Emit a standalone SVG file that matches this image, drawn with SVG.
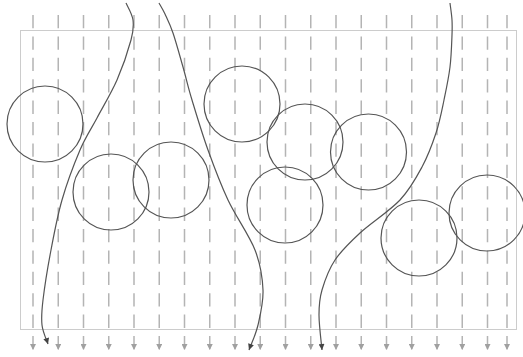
<svg xmlns="http://www.w3.org/2000/svg" width="523" height="357" viewBox="0 0 523 357">
<style>
.frame{fill:none;stroke:#cccccc;stroke-width:1}
.rain{stroke:#b4b4b4;stroke-width:1.5;stroke-dasharray:13.3 8.1;fill:none}
.node{fill:none;stroke:#555555;stroke-width:1.2}
.flow{fill:none;stroke:#555555;stroke-width:1.2}
</style>
<defs>
<marker id="ga" viewBox="0 0 10 10" refX="10" refY="5" markerWidth="6" markerHeight="6" markerUnits="userSpaceOnUse" orient="auto">
<path d="M0,0 L10,5 L0,10 z" fill="#a0a0a0"/>
</marker>
<marker id="da" viewBox="0 0 10 10" refX="10" refY="5" markerWidth="7" markerHeight="6" markerUnits="userSpaceOnUse" orient="auto">
<path d="M0,0 L10,5 L0,10 z" fill="#444444"/>
</marker>
</defs>
<rect class="frame" x="20.5" y="30.5" width="496" height="299"/>
<g id="rain">
<line class="rain" x1="33" y1="15" x2="33" y2="350" marker-end="url(#ga)"/>
<line class="rain" x1="58.25" y1="15" x2="58.25" y2="350" marker-end="url(#ga)"/>
<line class="rain" x1="83.5" y1="15" x2="83.5" y2="350" marker-end="url(#ga)"/>
<line class="rain" x1="108.75" y1="15" x2="108.75" y2="350" marker-end="url(#ga)"/>
<line class="rain" x1="134" y1="15" x2="134" y2="350" marker-end="url(#ga)"/>
<line class="rain" x1="159.25" y1="15" x2="159.25" y2="350" marker-end="url(#ga)"/>
<line class="rain" x1="184.5" y1="15" x2="184.5" y2="350" marker-end="url(#ga)"/>
<line class="rain" x1="209.75" y1="15" x2="209.75" y2="350" marker-end="url(#ga)"/>
<line class="rain" x1="235" y1="15" x2="235" y2="350" marker-end="url(#ga)"/>
<line class="rain" x1="260.25" y1="15" x2="260.25" y2="350" marker-end="url(#ga)"/>
<line class="rain" x1="285.5" y1="15" x2="285.5" y2="350" marker-end="url(#ga)"/>
<line class="rain" x1="310.75" y1="15" x2="310.75" y2="350" marker-end="url(#ga)"/>
<line class="rain" x1="336" y1="15" x2="336" y2="350" marker-end="url(#ga)"/>
<line class="rain" x1="361.25" y1="15" x2="361.25" y2="350" marker-end="url(#ga)"/>
<line class="rain" x1="386.5" y1="15" x2="386.5" y2="350" marker-end="url(#ga)"/>
<line class="rain" x1="411.75" y1="15" x2="411.75" y2="350" marker-end="url(#ga)"/>
<line class="rain" x1="437" y1="15" x2="437" y2="350" marker-end="url(#ga)"/>
<line class="rain" x1="462.25" y1="15" x2="462.25" y2="350" marker-end="url(#ga)"/>
<line class="rain" x1="487.5" y1="15" x2="487.5" y2="350" marker-end="url(#ga)"/>
<line class="rain" x1="507" y1="15" x2="507" y2="350" marker-end="url(#ga)"/>
</g>
<g id="n1"><circle class="node" cx="45" cy="124" r="38"/></g>
<g id="n2"><circle class="node" cx="111" cy="192" r="38"/></g>
<g id="n3"><circle class="node" cx="171" cy="180" r="38"/></g>
<g id="n4"><circle class="node" cx="242" cy="104" r="38"/></g>
<g id="n5"><circle class="node" cx="305" cy="142" r="38"/></g>
<g id="n6"><circle class="node" cx="368.5" cy="152" r="38"/></g>
<g id="n7"><circle class="node" cx="285" cy="205" r="38"/></g>
<g id="n8"><circle class="node" cx="419" cy="238" r="38"/></g>
<g id="n9"><circle class="node" cx="487" cy="213" r="38"/></g>
<g id="connectors">
<path class="flow" marker-end="url(#da)" d="M126,3 C127.2,5.8 132.2,13.8 133,20 C133.8,26.2 133.7,30 131,40 C128.3,50 122.7,67 117,80 C111.3,93 103.2,106.3 97,118 C90.8,129.7 85.8,136.3 80,150 C74.2,163.7 66.8,183.3 62,200 C57.2,216.7 54.2,233.3 51,250 C47.8,266.7 44.5,287.5 43,300 C41.5,312.5 41.2,317.7 42,325 C42.8,332.3 47,340.8 48,344"/>
<path class="flow" marker-end="url(#da)" d="M159,3 C160,4.8 162.7,9 165,14 C167.3,19 170,24.2 173,33 C176,41.8 179.8,55.8 183,67 C186.2,78.2 187.8,86.2 192,100 C196.2,113.8 202,133.3 208,150 C214,166.7 220.2,183.3 228,200 C235.8,216.7 249.2,235 255,250 C260.8,265 262.5,277.5 263,290 C263.5,302.5 260.3,315 258,325 C255.7,335 250.5,345.8 249,350"/>
<path class="flow" marker-end="url(#da)" d="M450,3 C450.3,5.8 451.7,14.7 452,20 C452.3,25.3 452.3,27.2 452,35 C451.7,42.8 451.3,56.2 450,67 C448.7,77.8 446.3,89 444,100 C441.7,111 439.7,121.8 436,133 C432.3,144.2 428,155.8 422,167 C416,178.2 410.3,189 400,200 C389.7,211 370.8,223 360,233 C349.2,243 341.3,250.5 335,260 C328.7,269.5 324.7,280.8 322,290 C319.3,299.2 319,305 319,315 C319,325 321.5,344.2 322,350"/>
</g>
</svg>
